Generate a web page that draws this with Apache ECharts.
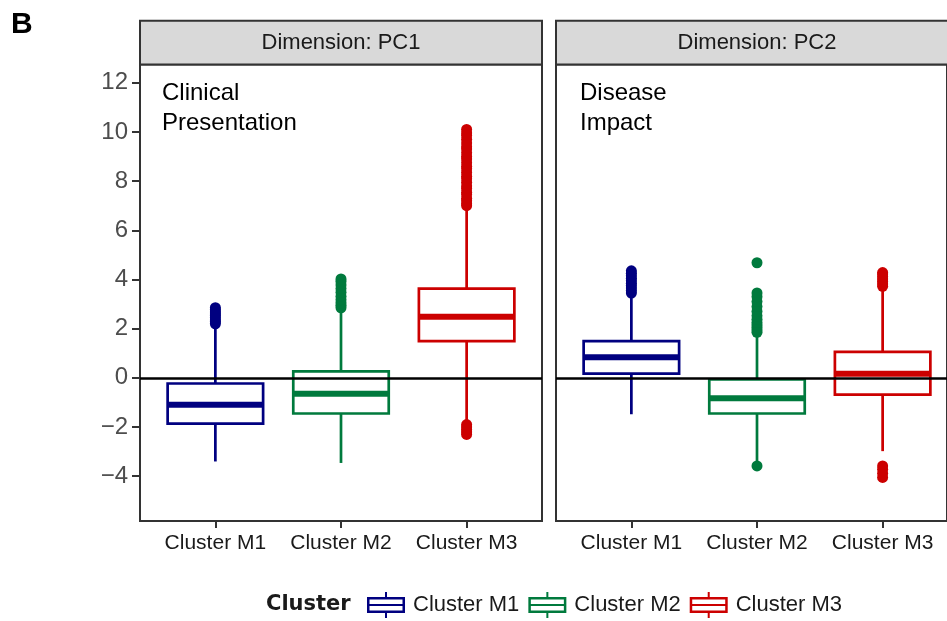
<!DOCTYPE html>
<html>
<head>
<meta charset="utf-8">
<script src="https://cdn.jsdelivr.net/npm/echarts@6/dist/echarts.min.js"></script>
<style>
  html, body { margin: 0; padding: 0; background: #ffffff; }
  #chart { width: 947px; height: 621px; }
</style>
</head>
<body>
<div id="chart"></div>
<script>
// ---- data ----
const clusters = ['Cluster M1', 'Cluster M2', 'Cluster M3'];
const clusterColors = ['#000080', '#007A3D', '#CC0000'];
const panelTitles = ['Dimension: PC1', 'Dimension: PC2'];
const panelNotes = ['Clinical\nPresentation', 'Disease\nImpact'];
const yTicks = [-4, -2, 0, 2, 4, 6, 8, 10, 12];

// [lower whisker, Q1, median, Q3, upper whisker] for each cluster
const pc1Boxes = [
  [-3.40, -1.86, -1.09, -0.23, 2.10],
  [-3.46, -1.45, -0.65, 0.26, 2.75],
  [-1.78, 1.49, 2.48, 3.63, 6.90]
];
const pc2Boxes = [
  [-1.48, 0.17, 0.84, 1.49, 3.40],
  [-3.45, -1.45, -0.83, -0.06, 1.75],
  [-2.98, -0.68, 0.17, 1.06, 3.65]
];

// outlying observations for each cluster
const pc1Outliers = [
  [2.20, 2.28, 2.35, 2.44, 2.52, 2.60, 2.68, 2.77, 2.85],
  [2.85, 2.95, 3.05, 3.18, 3.32, 3.48, 3.63, 3.78, 3.92, 4.02],
  [-2.30, -2.20, -2.10, -2.00, -1.90,
   7.00, 7.08, 7.20, 7.30, 7.45, 7.55, 7.70, 7.80, 7.95, 8.10, 8.20, 8.35,
   8.50, 8.60, 8.75, 8.90, 9.00, 9.15, 9.30, 9.40, 9.55, 9.70, 9.85, 9.95, 10.10]
];
const pc2Outliers = [
  [3.45, 3.55, 3.65, 3.75, 3.85, 3.95, 4.05, 4.15, 4.25, 4.35],
  [1.85, 1.95, 2.05, 2.15, 2.25, 2.38, 2.52, 2.70, 2.90, 3.10, 3.30, 3.45, 4.68, -3.58],
  [3.72, 3.82, 3.92, 4.02, 4.12, 4.22, 4.28, -3.58, -3.72, -3.88, -4.05]
];

// ---- layout ----
const FONT = '"Liberation Sans", Arial, sans-serif';
const Y_MIN = -5.82, Y_MAX = 12.74;
const panelLeft = [140, 556];
const PANEL_W = 402, PANEL_TOP = 64.5, PANEL_H = 456.5;
const STRIP_TOP = 20.7;
// discrete expansion: 0.6 of a category step on each side
const unit = PANEL_W / 3.2;

const boxesByPanel = [pc1Boxes, pc2Boxes];
const outliersByPanel = [pc1Outliers, pc2Outliers];

function renderBox(params, api) {
  const x = api.value(0);
  const lo = api.coord([x, api.value(1)]);
  const q1 = api.coord([x, api.value(2)]);
  const md = api.coord([x, api.value(3)]);
  const q3 = api.coord([x, api.value(4)]);
  const hi = api.coord([x, api.value(5)]);
  const half = api.size([1, 0])[0] * 0.76 / 2;
  const color = api.visual('color');
  const cx = md[0];
  return {
    type: 'group',
    children: [
      { type: 'line', shape: { x1: cx, y1: q3[1], x2: cx, y2: hi[1] }, style: { stroke: color, lineWidth: 2.7 } },
      { type: 'line', shape: { x1: cx, y1: q1[1], x2: cx, y2: lo[1] }, style: { stroke: color, lineWidth: 2.7 } },
      { type: 'rect', shape: { x: cx - half, y: q3[1], width: 2 * half, height: q1[1] - q3[1] },
        style: { fill: '#ffffff', stroke: color, lineWidth: 2.7 } },
      { type: 'line', shape: { x1: cx - half, y1: md[1], x2: cx + half, y2: md[1] }, style: { stroke: color, lineWidth: 6 } }
    ]
  };
}

const grids = [], xAxes = [], yAxes = [], series = [], graphics = [];

// frame grids (panel border, y labels, zero line)
for (let p = 0; p < 2; p++) {
  grids.push({
    left: panelLeft[p], top: PANEL_TOP, width: PANEL_W, height: PANEL_H,
    show: true, backgroundColor: '#ffffff', borderColor: '#333333', borderWidth: 2
  });
  xAxes.push({ gridIndex: p, type: 'value', min: 0, max: 1, show: false });
  yAxes.push({
    gridIndex: p, type: 'value', min: Y_MIN, max: Y_MAX,
    splitLine: { show: false },
    axisLine: { show: false },
    axisTick: { show: p === 0, customValues: yTicks, length: 8, lineStyle: { color: '#333333', width: 2 } },
    axisLabel: { show: p === 0, customValues: yTicks, fontSize: 24, fontFamily: FONT, color: '#4D4D4D', margin: 12,
      formatter: v => (v < 0 ? '\u2212' + Math.abs(v) : String(v)) }
  });
  series.push({
    type: 'line', xAxisIndex: p, yAxisIndex: p, data: [], silent: true, z: 10,
    markLine: {
      silent: true, symbol: 'none', label: { show: false },
      lineStyle: { color: '#000000', width: 2.5, type: 'solid' },
      emphasis: { disabled: true },
      data: [{ yAxis: 0 }]
    }
  });
}

// data grids (categories)
for (let p = 0; p < 2; p++) {
  const gi = 2 + p;
  grids.push({ left: panelLeft[p] + 0.1 * unit, top: PANEL_TOP, width: 3 * unit, height: PANEL_H });
  xAxes.push({
    gridIndex: gi, type: 'category', data: clusters, boundaryGap: true, position: 'bottom',
    axisLine: { show: true, onZero: false, lineStyle: { color: 'rgba(0,0,0,0)', width: 0 } },
    axisTick: { show: true, alignWithLabel: true, interval: 0, length: 7, lineStyle: { color: '#333333', width: 2 } },
    axisLabel: { interval: 0, fontSize: 21, fontFamily: FONT, color: '#1A1A1A', margin: 12 },
    splitLine: { show: false }
  });
  yAxes.push({ gridIndex: gi, type: 'value', min: Y_MIN, max: Y_MAX, show: false, splitLine: { show: false } });

  clusters.forEach((name, c) => {
    series.push({
      name, type: 'custom', xAxisIndex: gi, yAxisIndex: gi, z: 3,
      itemStyle: { color: clusterColors[c] },
      renderItem: renderBox,
      encode: { x: 0, y: [1, 2, 3, 4, 5] },
      data: [[c].concat(boxesByPanel[p][c])]
    });
    series.push({
      name, type: 'scatter', xAxisIndex: gi, yAxisIndex: gi, z: 2,
      symbolSize: 11,
      itemStyle: { color: clusterColors[c], opacity: 1 },
      data: outliersByPanel[p][c].map(v => [c, v])
    });
  });

  // facet strip
  graphics.push({
    type: 'rect', shape: { x: panelLeft[p], y: STRIP_TOP, width: PANEL_W, height: PANEL_TOP - STRIP_TOP },
    style: { fill: '#D9D9D9', stroke: '#333333', lineWidth: 2 }, z: 5
  });
  graphics.push({
    type: 'text', x: panelLeft[p] + PANEL_W / 2, y: (STRIP_TOP + PANEL_TOP) / 2,
    style: { text: panelTitles[p], fontSize: 22, fontFamily: FONT, fill: '#1A1A1A', align: 'center', verticalAlign: 'middle' },
    z: 6
  });
  graphics.push({
    type: 'text', x: panelLeft[p] + 22 + (p === 1 ? 2 : 0), y: 108.5,
    style: { text: panelNotes[p], fontSize: 24, fontFamily: FONT, fill: '#000000', lineHeight: 30, align: 'left', verticalAlign: 'middle' },
    z: 6
  });
}

// panel tag and legend title
graphics.push({
  type: 'text', x: 11, y: 24.5,
  style: { text: 'B', fontSize: 30, fontWeight: 'bold', fontFamily: FONT, fill: '#000000', verticalAlign: 'middle' }
});
graphics.push({
  type: 'text', x: 266, y: 605,
  style: { text: 'Cluster', fontSize: 21, fontWeight: 'bold', fontFamily: '"DejaVu Sans", sans-serif', fill: '#1A1A1A', verticalAlign: 'middle' }
});

const legendIcon = 'path://M18 0H20V5H38V21H20V26H18V21H0V5H18Z M2.5 7.5V12H35.5V7.5Z M2.5 14V18.5H35.5V14Z';

const chart = echarts.init(document.getElementById('chart'), null, { renderer: 'canvas' });
chart.setOption({
  animation: false,
  backgroundColor: '#ffffff',
  grid: grids,
  xAxis: xAxes,
  yAxis: yAxes,
  legend: {
    left: 367, top: 592, padding: 0,
    itemWidth: 38, itemHeight: 26, itemGap: 9,
    selectedMode: false,
    textStyle: { fontSize: 22, fontFamily: FONT, color: '#1A1A1A', padding: [0, 0, 0, 3] },
    data: clusters.map((name, c) => ({ name, icon: legendIcon, itemStyle: { color: clusterColors[c] } }))
  },
  graphic: graphics,
  series
});
</script>
</body>
</html>
